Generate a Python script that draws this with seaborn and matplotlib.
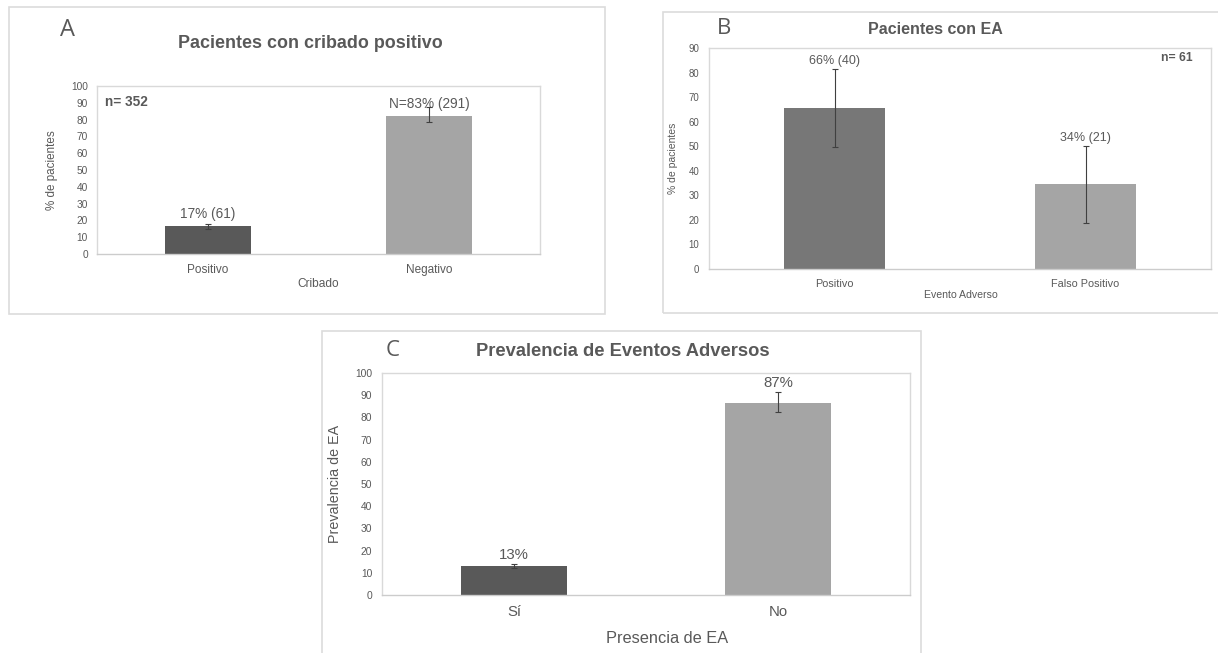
import matplotlib
matplotlib.use("Agg")
import matplotlib.pyplot as plt
import seaborn as sns
import pandas as pd
import numpy as np
from matplotlib.patches import Rectangle

# ---------------- data ----------------
a_cats = ["Positivo", "Negativo"]
a_vals = [16.5, 82.0]
a_lo = [15.0, 78.5]
a_hi = [18.0, 87.5]
a_labels = ["17% (61)", "N=83% (291)"]

b_cats = ["Positivo", "Falso Positivo"]
b_vals = [65.5, 34.5]
b_lo = [49.5, 18.7]
b_hi = [81.4, 50.0]
b_labels = ["66% (40)", "34% (21)"]

c_cats = ["Sí", "No"]
c_vals = [13.0, 86.5]
c_lo = [12.0, 82.4]
c_hi = [14.0, 91.4]
c_labels = ["13%", "87%"]

# ---------------- style ----------------
sns.set_theme(style="white")
plt.rcParams["font.family"] = ["Liberation Sans", "DejaVu Sans"]
TXT = "#595959"
DARK = "#595959"
DARK_B = "#777777"
LIGHT = "#a5a5a5"
GRID = "#d9d9d9"

W, H = 1218, 653
fig = plt.figure(figsize=(W / 100, H / 100), dpi=100)
fig.patch.set_facecolor("white")


def px_rect(l, t, r, b):
    return [l / W, (H - b) / H, (r - l) / W, (b - t) / H]


def fx(x):
    return x / W


def fy(y):
    return (H - y) / H


# panel borders
for (l, t, r, b) in [(9, 7, 605, 314), (663, 12, 1225, 313), (322, 331, 921, 660)]:
    fig.add_artist(Rectangle((fx(l), fy(b)), fx(r) - fx(l), fy(t) - fy(b),
                             transform=fig.transFigure, fill=False,
                             edgecolor="#dcdcdc", lw=1.2))


def panel(rect, cats, vals, lo, hi, colors, width, ymax, tick_fs, ytick_fs,
          ylabel, ylab_fs, ylab_x, xlabel, xlab_fs, xlab_xy, xpad, ypad):
    ax = fig.add_axes(rect)
    df = pd.DataFrame({"cat": cats, "val": vals})
    sns.barplot(data=df, x="cat", y="val", hue="cat", palette=colors,
                width=width, legend=False, errorbar=None, saturation=1,
                ax=ax, edgecolor="none", linewidth=0)
    v = np.array(vals)
    ax.errorbar(x=np.arange(len(cats)), y=v,
                yerr=[v - np.array(lo), np.array(hi) - v],
                fmt="none", ecolor="#404040", elinewidth=0.8, capsize=2,
                capthick=0.8, zorder=5)
    ax.set_xlim(-0.5, len(cats) - 0.5)
    ax.set_ylim(0, ymax)
    ax.set_yticks(np.arange(0, ymax + 1, 10))
    ax.tick_params(axis="x", length=0, pad=xpad, labelsize=tick_fs, colors=TXT)
    ax.tick_params(axis="y", length=0, pad=ypad, labelsize=ytick_fs, colors=TXT)
    for s in ax.spines.values():
        s.set_color(GRID)
        s.set_linewidth(1.0)
    ax.spines["bottom"].set_color("#cccccc")
    ax.set_ylabel(ylabel, fontsize=ylab_fs, color=TXT)
    ax.yaxis.set_label_coords(ylab_x, 0.5)
    ax.set_xlabel(xlabel, fontsize=xlab_fs, color=TXT)
    ax.xaxis.set_label_coords(*xlab_xy)
    return ax


# ---------------- Panel A ----------------
axA = panel(px_rect(97, 86, 540, 254), a_cats, a_vals, a_lo, a_hi,
            [DARK, LIGHT], 0.39, 100, 8.5, 7.3,
            "% de pacientes", 8.4, -0.088, "Cribado", 8.6, (0.499, -0.145), 7, 6.5)
for i, (v, lab) in enumerate(zip(a_vals, a_labels)):
    axA.text(i, v + 3.3, lab, ha="center", va="bottom", fontsize=9.8, color=TXT)
axA.text(0.017, 0.905, "n= 352", transform=axA.transAxes, ha="left", va="center",
         fontsize=9.8, fontweight="bold", color=TXT)
fig.text(fx(310), fy(43), "Pacientes con cribado positivo", ha="center", va="center",
         fontsize=12.9, fontweight="bold", color=TXT)
fig.text(fx(67), fy(30.5), "A", ha="center", va="center", fontsize=17,
         color=TXT, family=["Open Sans", "DejaVu Sans"])

# ---------------- Panel B ----------------
axB = panel(px_rect(709, 48, 1211, 269), b_cats, b_vals, b_lo, b_hi,
            [DARK_B, LIGHT], 0.40, 90, 7.8, 6.9,
            "% de pacientes", 7.5, -0.062, "Evento Adverso", 7.6, (0.502, -0.097), 7, 7)
for i, (h, lab) in enumerate(zip(b_hi, b_labels)):
    axB.text(i, h + 0.8, lab, ha="center", va="bottom", fontsize=9, color=TXT)
axB.text((1193 - 709) / 502, 0.955, "n= 61", transform=axB.transAxes,
         ha="right", va="center", fontsize=8.7, fontweight="bold", color=TXT)
fig.text(fx(935), fy(29), "Pacientes con EA", ha="center", va="center",
         fontsize=11.5, fontweight="bold", color=TXT)
fig.text(fx(724.5), fy(29), "B", ha="center", va="center", fontsize=16,
         color=TXT, family=["Open Sans", "DejaVu Sans"])

# ---------------- Panel C ----------------
axC = panel(px_rect(382, 373, 910, 595), c_cats, c_vals, c_lo, c_hi,
            [DARK, LIGHT], 0.405, 100, 10.7, 7.4,
            "Prevalencia de EA", 10.3, -0.076, "Presencia de EA", 11.8, (0.54, -0.16), 7.5, 7)
for i, (h, lab) in enumerate(zip(c_hi, c_labels)):
    axC.text(i, h + 0.8, lab, ha="center", va="bottom", fontsize=10.8, color=TXT)
fig.text(fx(623), fy(351), "Prevalencia de Eventos Adversos", ha="center", va="center",
         fontsize=13.2, fontweight="bold", color=TXT)
fig.text(fx(393), fy(351), "C", ha="center", va="center", fontsize=16,
         color=TXT, family=["Open Sans", "DejaVu Sans"])

fig.savefig("out.png", dpi=100, facecolor="white")
